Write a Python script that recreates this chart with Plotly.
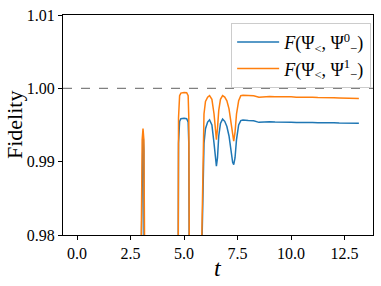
import plotly.graph_objects as go

# time samples
t = [0.0, 2.97, 3.00, 3.04, 3.08, 3.12, 3.15, 3.18,
     4.66, 4.70, 4.74, 4.79, 4.85, 5.00, 5.12, 5.19, 5.22, 5.24, 5.27,
     5.80, 5.83, 5.88, 5.93, 6.00, 6.10, 6.19, 6.30, 6.40, 6.46, 6.51, 6.56, 6.62, 6.70,
     6.80, 6.90, 7.00, 7.10, 7.20, 7.27, 7.32, 7.38, 7.45, 7.55, 7.65, 7.75,
     8.00, 8.25, 8.50, 8.75, 9.00, 9.25, 9.50, 9.75, 10.00, 10.25, 10.50, 10.75,
     11.00, 11.25, 11.50, 11.75, 12.00, 12.25, 12.50, 12.75, 13.00, 13.17]

fid_0 = [0.90, 0.90, 0.978, 0.9915, 0.9940, 0.9915, 0.978, 0.90,
         0.90, 0.978, 0.9925, 0.9955, 0.99585, 0.99592, 0.99585, 0.9954, 0.9925, 0.978, 0.90,
         0.90, 0.978, 0.9880, 0.9925, 0.9945, 0.9954, 0.9957, 0.9950, 0.9925, 0.9905, 0.9894, 0.9905, 0.9935, 0.9952,
         0.9958, 0.9955, 0.9948, 0.9935, 0.9912, 0.9899, 0.9896, 0.9905, 0.9930, 0.9950, 0.9956, 0.99568,
         0.99562, 0.99558, 0.99536, 0.99542, 0.99545, 0.99540, 0.99542, 0.99536, 0.99538, 0.99534, 0.99536, 0.99532,
         0.99534, 0.99530, 0.99532, 0.99528, 0.99530, 0.99526, 0.99524, 0.99520, 0.99522, 0.99523]

fid_1 = [0.90, 0.90, 0.980, 0.9930, 0.9945, 0.9930, 0.980, 0.90,
         0.90, 0.980, 0.9960, 0.9990, 0.99935, 0.99942, 0.99940, 0.9990, 0.9960, 0.980, 0.90,
         0.90, 0.980, 0.9920, 0.9965, 0.9982, 0.9988, 0.9990, 0.9985, 0.9965, 0.9945, 0.9930, 0.9945, 0.9970, 0.9985,
         0.9990, 0.9988, 0.9983, 0.9972, 0.9950, 0.9935, 0.9928, 0.9940, 0.9965, 0.9983, 0.9990, 0.99905,
         0.99900, 0.99898, 0.99880, 0.99885, 0.99888, 0.99884, 0.99886, 0.99882, 0.99884, 0.99880, 0.99882, 0.99878,
         0.99879, 0.99875, 0.99876, 0.99872, 0.99870, 0.99868, 0.99866, 0.99860, 0.99864, 0.99861]

reference_level = 1.0
y_ticks = [0.98, 0.99, 1.00, 1.01]
x_ticks = [0.0, 2.5, 5.0, 7.5, 10.0, 12.5]

name_0 = "<i>F</i>(Ψ<sub><</sub>, Ψ<sup>0</sup><sub>−</sub>)"
name_1 = "<i>F</i>(Ψ<sub><</sub>, Ψ<sup>1</sup><sub>−</sub>)"

font_family = "Liberation Serif, DejaVu Serif, serif"

fig = go.Figure()
fig.add_trace(go.Scatter(x=t, y=fid_0, mode="lines", name=name_0,
                         line=dict(color="#1f77b4", width=1.5)))
fig.add_trace(go.Scatter(x=t, y=fid_1, mode="lines", name=name_1,
                         line=dict(color="#ff7f0e", width=1.5)))

fig.add_hline(y=reference_level, line=dict(color="#808080", width=1.2, dash="dash"))

fig.update_layout(
    width=381, height=286,
    margin=dict(l=63, r=8, t=15, b=51, autoexpand=False),
    paper_bgcolor="white", plot_bgcolor="white",
    font=dict(family=font_family, size=16, color="black"),
    showlegend=True,
    legend=dict(x=0.994, y=0.964, xanchor="right", yanchor="top",
                bgcolor="rgba(255,255,255,0.8)", bordercolor="#cccccc", borderwidth=1,
                font=dict(size=18, family=font_family), tracegroupgap=0,
                itemwidth=42),
    annotations=[
        dict(text="<i>t</i>", xref="paper", yref="paper", x=0.5, y=-0.15,
             xanchor="center", yanchor="middle", showarrow=False,
             font=dict(size=24, family=font_family)),
        dict(text="Fidelity", xref="paper", yref="paper", x=-0.158, y=0.5,
             xanchor="center", yanchor="middle", showarrow=False, textangle=-90,
             font=dict(size=22, family=font_family)),
    ],
)
fig.update_xaxes(range=[-0.66, 13.83], tickvals=x_ticks,
                 ticktext=[f"{v:.1f}" for v in x_ticks],
                 showgrid=False, zeroline=False, automargin=False,
                 showline=True, mirror=True, linecolor="black", linewidth=1,
                 ticks="outside", ticklen=4, tickcolor="black")
fig.update_yaxes(range=[0.98, 1.01], tickvals=y_ticks,
                 ticktext=[f"{v:.2f}" for v in y_ticks],
                 showgrid=False, zeroline=False, automargin=False,
                 showline=True, mirror=True, linecolor="black", linewidth=1,
                 ticks="outside", ticklen=4, tickcolor="black")

fig.write_html("out.html", config={"displayModeBar": False},
               post_script="document.body.style.margin='0';")
